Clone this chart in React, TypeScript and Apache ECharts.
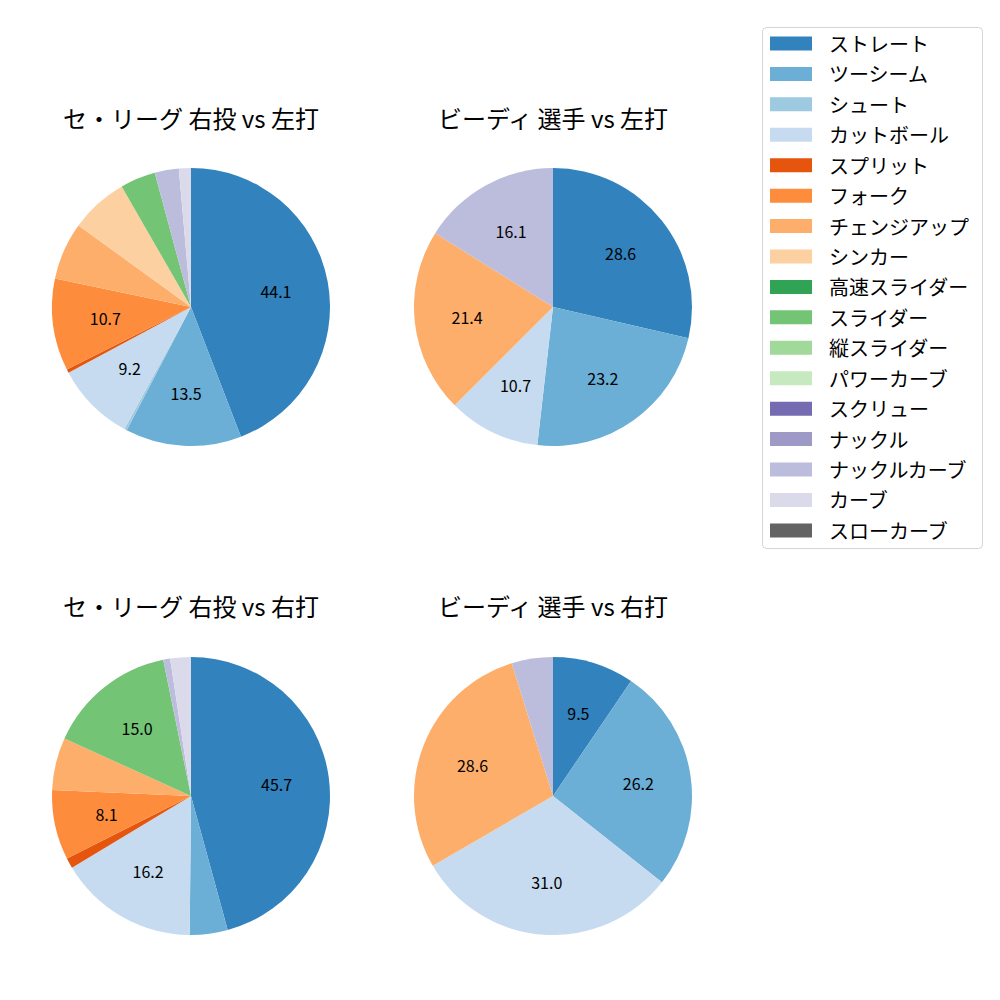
import React, { useEffect, useRef } from "react";
import * as echarts from "echarts";

const pitchTypes = [
  "ストレート", "ツーシーム", "シュート", "カットボール", "スプリット", "フォーク",
  "チェンジアップ", "シンカー", "高速スライダー", "スライダー", "縦スライダー",
  "パワーカーブ", "スクリュー", "ナックル", "ナックルカーブ", "カーブ", "スローカーブ",
];
const pitchColors = [
  "#3182bd", "#6baed6", "#9ecae1", "#c6dbef", "#e6550d", "#fd8d3c",
  "#fdae6b", "#fdd0a2", "#31a354", "#74c476", "#a1d99b",
  "#c7e9c0", "#756bb1", "#9e9ac8", "#bcbddc", "#dadaeb", "#636363",
];

const pie1Values = [44.1, 13.5, 0.3, 9.2, 0.4, 10.7, 6.7, 6.7, 0, 4.1, 0, 0, 0, 0, 2.8, 1.4, 0];
const pie2Values = [28.6, 23.2, 0, 10.7, 0, 0, 21.4, 0, 0, 0, 0, 0, 0, 0, 16.1, 0, 0];
const pie3Values = [45.7, 4.4, 0, 16.2, 1.2, 8.1, 6.1, 0, 0, 15.0, 0, 0, 0, 0, 0.8, 2.4, 0];
const pie4Values = [9.5, 26.2, 0, 31.0, 0, 0, 28.6, 0, 0, 0, 0, 0, 0, 0, 4.8, 0, 0];

const pieTitles = [
  "セ・リーグ 右投 vs 左打",
  "ビーディ 選手 vs 左打",
  "セ・リーグ 右投 vs 右打",
  "ビーディ 選手 vs 右打",
];

const FONT = "'Noto Sans CJK JP', 'Noto Sans', sans-serif";
const LABEL_MIN = 8;

export default function App() {
  const ref = useRef<HTMLDivElement>(null);
  useEffect(() => {
    if (!ref.current) return;
    const chart = echarts.init(ref.current, null, { renderer: "svg" });
    const allValues = [pie1Values, pie2Values, pie3Values, pie4Values];
    const centers = [
      [191, 307],
      [553, 307],
      [191, 796],
      [553, 796],
    ];
    const R = 139;
    const series: any[] = [];
    allValues.forEach((vals, i) => {
      const data = vals
        .map((v, k) => ({ name: pitchTypes[k], value: v, itemStyle: { color: pitchColors[k] } }))
        .filter((d) => d.value > 0);
      series.push({
        type: "pie",
        center: centers[i],
        radius: [0, R],
        startAngle: 90,
        clockwise: true,
        avoidLabelOverlap: false,
        silent: true,
        label: { show: false },
        labelLine: { show: false },
        itemStyle: { borderWidth: 0 },
        data,
      });
      series.push({
        type: "pie",
        center: centers[i],
        radius: [R * 0.2, R],
        startAngle: 90,
        clockwise: true,
        avoidLabelOverlap: false,
        silent: true,
        label: {
          show: true,
          position: "inside",
          fontFamily: FONT,
          fontSize: 16,
          color: "#000",
          formatter: (p: any) => (p.value >= LABEL_MIN ? p.value.toFixed(1) : ""),
        },
        labelLine: { show: false },
        itemStyle: { color: "rgba(0,0,0,0)", borderWidth: 0 },
        data: data.map((d) => ({ name: d.name, value: d.value })),
      });
    });

    const graphic: any[] = [];
    const titlePos = [
      [191, 117],
      [553, 117],
      [191, 605],
      [553, 605],
    ];
    pieTitles.forEach((t, i) => {
      graphic.push({
        type: "text",
        x: titlePos[i][0],
        y: titlePos[i][1],
        style: {
          text: t,
          fontFamily: FONT,
          fontSize: 24,
          fill: "#000",
          align: "center",
          verticalAlign: "middle",
        },
      });
    });
    graphic.push({
      type: "rect",
      shape: { x: 762.5, y: 27.5, width: 220, height: 521, r: 4 },
      style: { fill: "#fff", stroke: "#d5d5d5", lineWidth: 1 },
    });
    const rowStart = 43.5;
    const rowGap = 30.43;
    pitchTypes.forEach((name, k) => {
      const cy = rowStart + k * rowGap;
      graphic.push({
        type: "rect",
        shape: { x: 770, y: cy - 7, width: 42, height: 14 },
        style: { fill: pitchColors[k] },
      });
      graphic.push({
        type: "text",
        x: 829,
        y: cy,
        style: {
          text: name,
          fontFamily: FONT,
          fontSize: 20,
          fill: "#000",
          align: "left",
          verticalAlign: "middle",
        },
      });
    });

    chart.setOption({
      animation: false,
      backgroundColor: "#fff",
      series,
      graphic,
    });
    return () => chart.dispose();
  }, []);
  return (
    <div
      ref={ref}
      style={{ position: "fixed", left: 0, top: 0, width: 1000, height: 1000 }}
    />
  );
}
